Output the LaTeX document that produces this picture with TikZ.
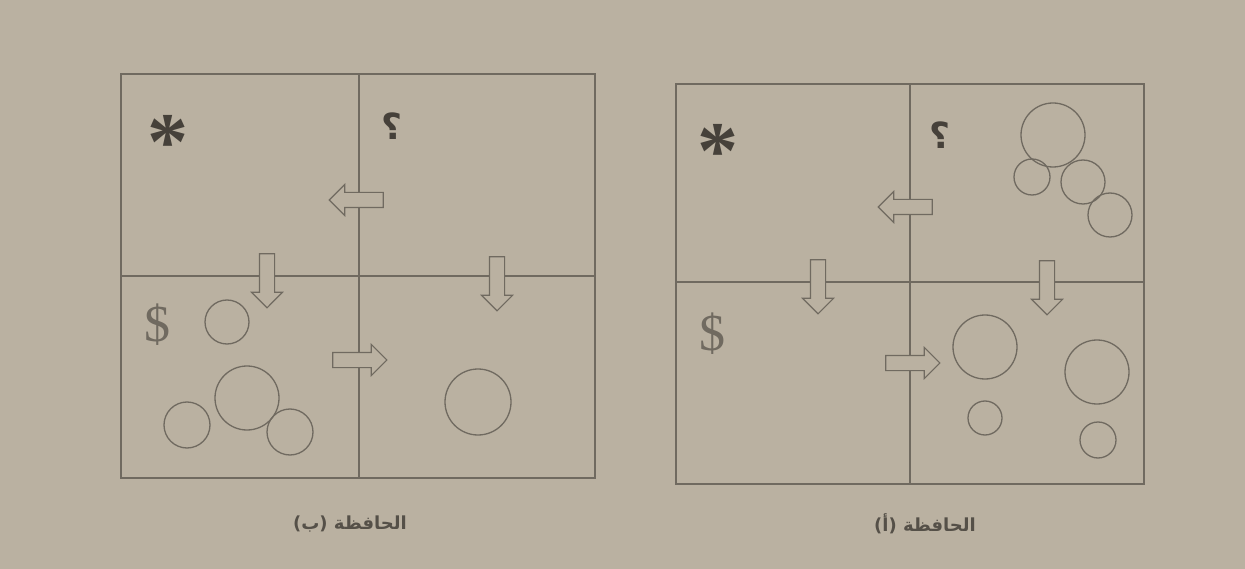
\documentclass[tikz,border=0pt]{standalone}
\usepackage{fontspec}
\usetikzlibrary{shapes.arrows}
\TeXXeTstate=1
\newfontfamily\arabicfont[Script=Arabic]{DejaVu Sans}
\newfontfamily\serifb{Liberation Serif}
\definecolor{bg}{RGB}{186,177,161}
\definecolor{ink}{RGB}{112,106,96}
\definecolor{dark}{RGB}{70,65,58}
\definecolor{lbl}{RGB}{85,80,72}
\begin{document}
\begin{tikzpicture}[x=1pt,y=-1pt,
  frame/.style={draw=ink, line width=1.4pt},
  circ/.style={circle, draw=ink, line width=1.3pt, inner sep=0pt},
  blk/.style={single arrow, draw=ink, fill=bg, line width=1.1pt, inner sep=7pt,
    minimum height=54pt, single arrow head extend=8pt},
  dn/.style={blk, shape border rotate=270},
  lf/.style={blk, shape border rotate=180},
  rt/.style={blk, shape border rotate=0},
  star/.style={text=dark, font=\serifb\bfseries\fontsize{82}{82}\selectfont, inner sep=0pt},
  qm/.style={text=dark, font=\arabicfont\bfseries\fontsize{36}{36}\selectfont, inner sep=0pt},
  dol/.style={text=ink, font=\serifb\fontsize{52}{52}\selectfont, inner sep=0pt},
  caplabel/.style={text=lbl, font=\arabicfont\bfseries\fontsize{18}{18}\selectfont, inner sep=0pt}]
\useasboundingbox (0,0) rectangle (1245,569);
\fill[bg] (0,0) rectangle (1245,569);

% ---- left figure (b)
\draw[frame] (121,74) rectangle (595,478);
\draw[frame] (359,74) -- (359,478);
\draw[frame] (121,276) -- (595,276);
\node[star] (bstar) at (168,142) {*};
\node[qm] (bq) at (392,126) {\beginR ؟\endR};
\node[dol] (bdol) at (157,325) {\$};
\node[lf] (bl) at (360,200) {};
\node[rt] (br) at (356,360) {};
\node[dn] (bd1) at (267,277) {};
\node[dn] (bd2) at (497,280) {};
\node[circ, minimum size=44pt] (bc1) at (227,322) {};
\node[circ, minimum size=64pt] (bc2) at (247,398) {};
\node[circ, minimum size=46pt] (bc3) at (187,425) {};
\node[circ, minimum size=46pt] (bc4) at (290,432) {};
\node[circ, minimum size=66pt] (bc5) at (478,402) {};
\node[caplabel] (bcap) at (350,524) {\beginR الحافظة (ب)\endR};

% ---- right figure (a)
\draw[frame] (676,84) rectangle (1144,484);
\draw[frame] (910,84) -- (910,484);
\draw[frame] (676,282) -- (1144,282);
\node[star] (astar) at (718,151) {*};
\node[qm] (aq) at (940,135) {\beginR ؟\endR};
\node[dol] (adol) at (712,334) {\$};
\node[lf] (al) at (909,207) {};
\node[rt] (ar) at (909,363) {};
\node[dn] (ad1) at (818,283) {};
\node[dn] (ad2) at (1047,284) {};
\node[circ, minimum size=64pt] (ac1) at (1053,135) {};
\node[circ, minimum size=36pt] (ac2) at (1032,177) {};
\node[circ, minimum size=44pt] (ac3) at (1083,182) {};
\node[circ, minimum size=44pt] (ac4) at (1110,215) {};
\node[circ, minimum size=64pt] (ac5) at (985,347) {};
\node[circ, minimum size=64pt] (ac6) at (1097,372) {};
\node[circ, minimum size=34pt] (ac7) at (985,418) {};
\node[circ, minimum size=36pt] (ac8) at (1098,440) {};
\node[caplabel] (acap) at (925,524) {\beginR الحافظة (أ)\endR};
\end{tikzpicture}
\end{document}
